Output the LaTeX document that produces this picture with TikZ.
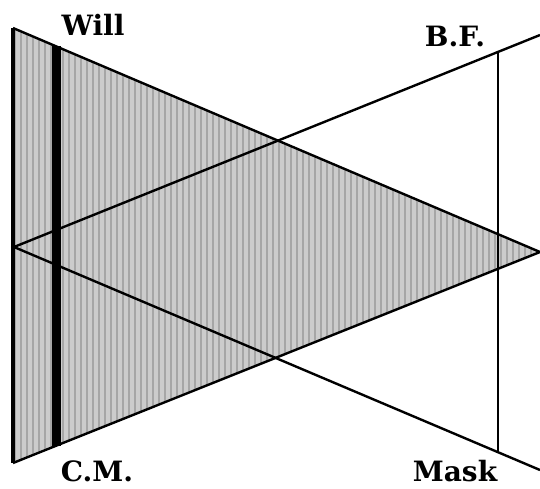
\documentclass[tikz,border=0pt]{standalone}
\usepackage{fontspec}
\setmainfont{DejaVu Serif}
\usetikzlibrary{calc}
\tikzset{
  edge/.style  ={line width=2.4pt,black},
  wall/.style  ={line width=4.5pt,black},
  cmbar/.style ={line width=9pt,black},
  stripe/.style={line width=2pt,gray!70},
  lbl/.style   ={font=\fontsize{28}{30}\selectfont\bfseries,inner sep=0pt,anchor=base},
}
\begin{document}
\begin{tikzpicture}[x=1pt,y=-1pt]
  \useasboundingbox (0,0) rectangle (540,488);
  \coordinate (will) at (13,28);
  \coordinate (cm)   at (13,463);
  \coordinate (apex) at (540,252);
  \coordinate (o)    at (14,247);
  \coordinate (bf)   at (540,35);
  \coordinate (mk)   at (540,470);
  \coordinate (bftop) at ($(o)!0.921!(bf)$);
  \coordinate (mkbot) at ($(o)!0.921!(mk)$);
  \coordinate (bartop) at ($(will)!0.0816!(apex)$);
  \coordinate (barbot) at ($(cm)!0.0816!(apex)$);
  \begin{scope}
    \clip (will) -- (cm) -- (apex) -- cycle;
    \fill[gray!40] (0,0) rectangle (540,488);
    \foreach \x in {15,21,...,540} \draw[stripe] (\x,0) -- (\x,488);
  \end{scope}
  \draw[edge] (will) -- (apex) -- (cm);
  \draw[wall] (will) -- (cm);
  \draw[cmbar] (bartop) -- (barbot);
  \draw[edge] (bf) -- (o) -- (mk);
  \draw[line width=2pt] (bftop) -- (mkbot);
  \node[lbl] (lwill) at (93,35)  {Will};
  \node[lbl] (lbf)   at (455,46) {B.F.};
  \node[lbl] (lcm)   at (97,481) {C.M.};
  \node[lbl] (lmask) at (455,481) {Mask};
\end{tikzpicture}
\end{document}
